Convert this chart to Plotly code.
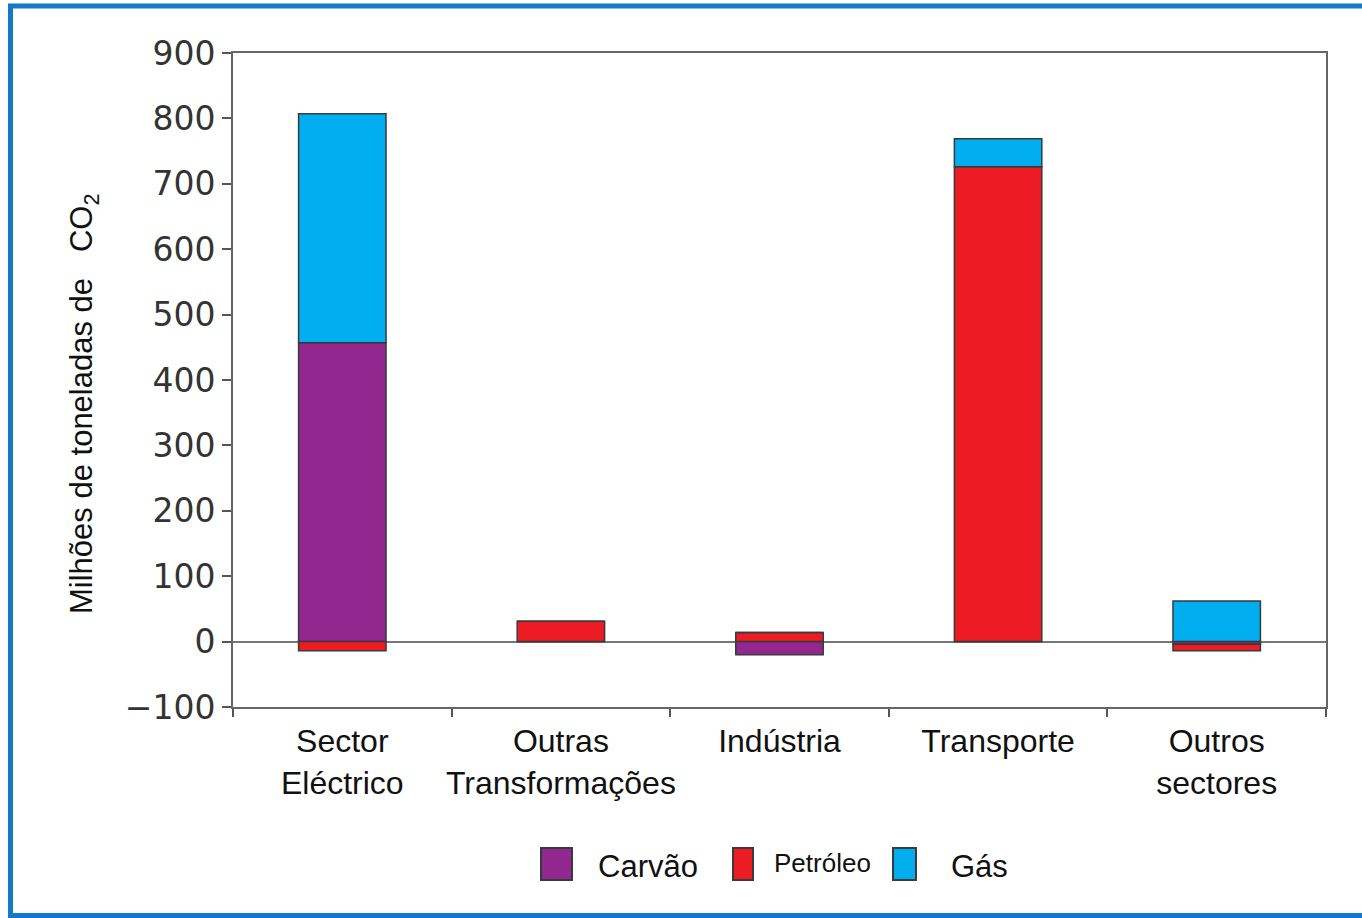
import plotly.graph_objects as go

# Emissões de CO2 por sector e por combustível (milhões de toneladas)
categorias = ["Sector<br>Eléctrico", "Outras<br>Transformações", "Indústria",
              "Transporte", "Outros<br>sectores"]
carvao = [457, 0, -20, 0, -4]
petroleo = [-14, 31, 14, 726, -10]
gas = [350, 0, 0, 43, 62]

cores = {"Carvão": "#92278f", "Petróleo": "#ed1c24", "Gás": "#00aeef"}
y_ticks = [-100, 0, 100, 200, 300, 400, 500, 600, 700, 800, 900]
y_ticktext = ["\u2212100" if v < 0 else str(v) for v in y_ticks]

ARIAL = "Arial, Liberation Sans, sans-serif"

W, H = 1362, 918
M_L, M_R, M_T, M_B = 233, 36, 53, 211
PW, PH = W - M_L - M_R, H - M_T - M_B


def px(x):
    return (x - M_L) / PW


def py(y):
    return (H - M_B - y) / PH


fig = go.Figure()
for nome, valores in [("Carvão", carvao), ("Petróleo", petroleo), ("Gás", gas)]:
    fig.add_trace(go.Bar(
        x=categorias, y=valores, name=nome,
        marker=dict(color=cores[nome], line=dict(color="#3a3a3a", width=1.5)),
        showlegend=False,
    ))

fig.update_layout(
    width=W, height=H,
    margin=dict(l=M_L, r=M_R, t=M_T, b=M_B),
    barmode="relative", bargap=0.6,
    plot_bgcolor="white", paper_bgcolor="white",
    font=dict(family=ARIAL, color="#111"),
)
fig.update_yaxes(
    range=[-100, 900], tickvals=y_ticks, ticktext=y_ticktext,
    tickfont=dict(family="DejaVu Sans, sans-serif", size=33, color="#333"),
    ticks="outside", ticklen=9, tickcolor="#555", tickwidth=2,
    showgrid=False, showline=True, linecolor="#666", linewidth=2, mirror=True,
    zeroline=True, zerolinecolor="#777", zerolinewidth=2,
)
fig.update_xaxes(
    tickson="boundaries", ticks="outside", ticklen=8, tickcolor="#555", tickwidth=2,
    tickfont=dict(family=ARIAL, size=32, color="#111"), tickangle=0,
    ticklabelstandoff=5,
    showgrid=False, showline=True, linecolor="#666", linewidth=2, mirror=True,
)

# Título do eixo vertical
fig.add_annotation(xref="paper", yref="paper", x=px(84), y=py(404),
                   text="Milhões de toneladas de   CO<sub>2</sub>", textangle=-90,
                   showarrow=False, font=dict(family=ARIAL, size=31, color="#111"),
                   xanchor="center", yanchor="middle")

# Moldura azul à volta da figura
fig.add_shape(type="rect", xref="paper", yref="paper",
              x0=px(10.5), x1=px(1366), y0=py(6), y1=py(915.5),
              line=dict(color="#1479c9", width=5), fillcolor="rgba(0,0,0,0)")

# Legenda desenhada à mão
legenda = [
    ("Carvão", 541, 572, 648, 866, 31),
    ("Petróleo", 733, 753, 822, 863, 26),
    ("Gás", 893, 916, 979, 866, 31),
]
for nome, x0, x1, tx, ty, fs in legenda:
    fig.add_shape(type="rect", xref="paper", yref="paper",
                  x0=px(x0), x1=px(x1), y0=py(880), y1=py(848),
                  fillcolor=cores[nome], line=dict(color="#3a3a3a", width=2))
    fig.add_annotation(xref="paper", yref="paper", x=px(tx), y=py(ty),
                       text=nome, showarrow=False,
                       font=dict(family=ARIAL, size=fs, color="#111"),
                       xanchor="center", yanchor="middle")

fig.write_html("out.html")
